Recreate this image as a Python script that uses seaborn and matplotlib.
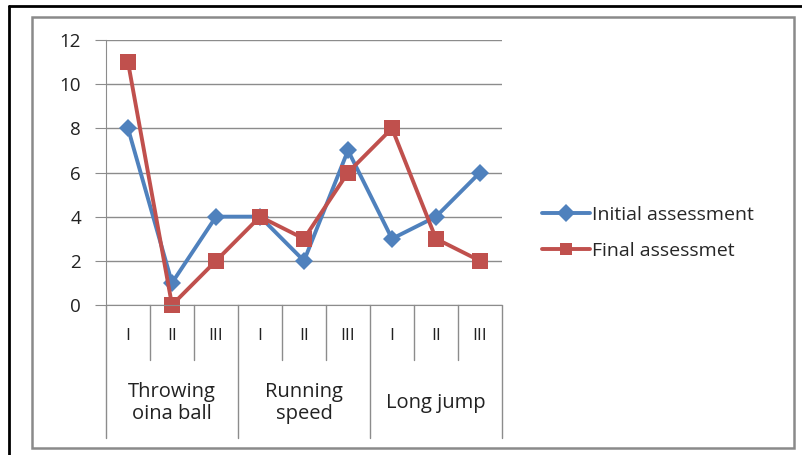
import seaborn as sns
import matplotlib.pyplot as plt
import pandas as pd

# data
groups = ['Throwing\noina ball', 'Running\nspeed', 'Long jump']
stages = ['I', 'II', 'III']
initial = [8, 1, 4, 4, 2, 7, 3, 4, 6]
final = [11, 0, 2, 4, 3, 6, 8, 3, 2]

sns.set_style('white')
plt.rcParams['font.family'] = ['Open Sans', 'DejaVu Sans']

W, H = 803, 455
fig = plt.figure(figsize=(W / 100, H / 100), dpi=100)
ax = fig.add_axes([106 / W, 1 - 305 / H, (502 - 106) / W, (305 - 40) / H])

pos = list(range(len(initial)))
df = pd.DataFrame({'pos': pos * 2,
                   'value': initial + final,
                   'series': ['Initial assessment'] * 9 + ['Final assessmet'] * 9})

blue, red = '#4F81BD', '#C0504D'
sns.lineplot(data=df, x='pos', y='value', hue='series', style='series',
             palette=[blue, red], markers=['D', 's'], dashes=False,
             markersize=9, linewidth=2.8, markeredgewidth=0, ax=ax, clip_on=False)
# make the square larger than the diamond
ax.lines[1].set_markersize(11)

ax.set_xlim(-0.5, 8.5)
ax.set_ylim(0, 12)
ax.set_yticks(range(0, 13, 2))
ax.grid(axis='y', color='#8c8c8c', linewidth=1)
ax.set_axisbelow(True)
for s in ['top', 'right']:
    ax.spines[s].set_visible(False)
ax.spines['left'].set_color('#8c8c8c')
ax.spines['bottom'].set_color('#8c8c8c')
ax.tick_params(axis='y', left=True, length=8, color='#8c8c8c', labelsize=13.5,
               pad=10, labelcolor='#222222')
ax.set_xticks([])
ax.set_xlabel('')
ax.set_ylabel('')

# multi-level category axis
trans = ax.get_xaxis_transform()
lower = -(438 - 305) / (305 - 40)
mid = -(360 - 305) / (305 - 40)
for i, lab in enumerate(stages * len(groups)):
    ax.text(i, -(336 - 305) / (305 - 40), lab, transform=trans, ha='center',
            va='center', fontsize=12.5, color='#222222')
for b in [x + 0.5 for x in range(-1, 9)]:
    bottom = lower if (b + 0.5) % 3 == 0 else mid
    ax.plot([b, b], [0, bottom], transform=trans, color='#8c8c8c',
            linewidth=1, clip_on=False)
for g, lab in enumerate(groups):
    ax.text(3 * g + 1, -(403 - 305) / (305 - 40), lab, transform=trans,
            ha='center', va='center', fontsize=14.5, color='#222222',
            linespacing=1.1)

# legend
handles, labels = ax.get_legend_handles_labels()
ax.legend(handles, labels, loc='center left', bbox_to_anchor=(524 / W, 1 - 233 / H),
          bbox_transform=fig.transFigure, frameon=False, fontsize=14,
          handlelength=2.5, handletextpad=0.1, labelspacing=0.95)

# chart frames
fig.add_artist(plt.Rectangle((32 / W, 1 - 448 / H), (794 - 32) / W, (448 - 17) / H,
                             transform=fig.transFigure, fill=False,
                             edgecolor='#8a8a8a', linewidth=1.8))
fig.add_artist(plt.Line2D([9 / W, 1], [1 - 6 / H, 1 - 6 / H],
                          transform=fig.transFigure, color='black', linewidth=2))
fig.add_artist(plt.Line2D([9 / W, 9 / W], [0, 1 - 6 / H],
                          transform=fig.transFigure, color='black', linewidth=2))

fig.savefig('out.png', dpi=100)
